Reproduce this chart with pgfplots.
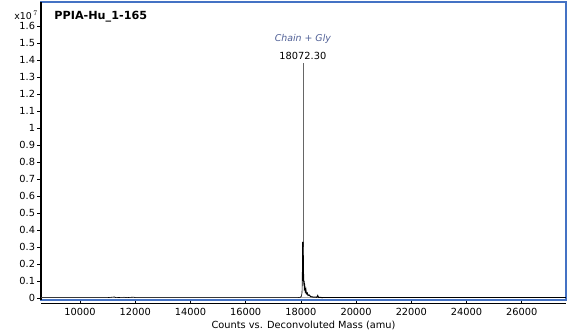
\documentclass[border=0pt]{standalone}
\usepackage{pgfplots}
\pgfplotsset{compat=1.18}
\usepackage{fontspec}
\setmainfont{DejaVu Sans}
\definecolor{frameblue}{RGB}{68,114,196}
\definecolor{annblue}{RGB}{80,96,150}
\begin{document}
\fontsize{9.8}{11}\selectfont
\begin{tikzpicture}
\begin{axis}[
  name=ax,
  scale only axis,
  width=525pt, height=298pt,
  xmin=8590, xmax=27600,
  ymin=-0.012, ymax=1.741,
  axis line style={draw=none},
  xtick={10000,12000,...,26000},
  ytick={0,0.1,...,1.6},
  yticklabels={0,0.1,0.2,0.3,0.4,0.5,0.6,0.7,0.8,0.9,1,1.1,1.2,1.3,1.4,1.5,1.6},
  scaled x ticks=false,
  /pgf/number format/1000 sep={},
  /pgf/number format/assume math mode=true,
  tick label style={font=\fontsize{9.8}{11}\selectfont},
  label style={font=\fontsize{9.8}{11}\selectfont},
  tick align=outside,
  xtick pos=bottom, ytick pos=left,
  major tick length=4pt,
  tick style={black, line width=0.7pt},
  xticklabel style={yshift=-0.5pt},
  yticklabel style={xshift=1.5pt},
  xlabel={Counts vs. Deconvoluted Mass (amu)},
  xlabel style={yshift=1pt},
  clip=false,
]
\draw[frameblue, line width=2pt] (rel axis cs:0,0) rectangle (rel axis cs:1,1);
\draw[black, line width=1.8pt] (rel axis cs:0,0) -- (rel axis cs:0,1);
\draw[black, line width=0.8pt] ([yshift=-3pt]rel axis cs:0,0) -- ([yshift=-3pt]rel axis cs:1,0);
\addplot[gray!70, line width=0.6pt] coordinates {(8590,0.002) (27600,0.002)};
\addplot[black, line width=0.6pt] coordinates {
(8590,0.002) (11000,0.002) (11250,0.006) (11300,0.002) (11600,0.004) (11700,0.002)
(11950,0.005) (12000,0.002) (17900,0.002) (17980,0.004) (18020,0.01)
(18040,0.03) (18050,0.08) (18055,0.33) (18060,0.2) (18064,0.33) (18066,0.1)
(18068,0.32) (18070,0.15) (18072,0.3)
};
\addplot[gray!80!black, line width=0.7pt] coordinates {(18072,0.3) (18072,1.385)};
\addplot[black, line width=1pt] coordinates {
(18072,0.3) (18076,0.2) (18078,0.33) (18082,0.18) (18086,0.25) (18092,0.12)
(18098,0.14) (18106,0.08) (18115,0.1) (18125,0.06) (18140,0.07) (18160,0.04)
(18180,0.05) (18200,0.025) (18230,0.03) (18260,0.015) (18300,0.018) (18350,0.008)
(18450,0.005) (18580,0.004) (18610,0.014) (18640,0.004) (18800,0.002)
};
\addplot[black, line width=0.6pt] coordinates {(18800,0.002) (27600,0.002)};
\node[anchor=north west, font=\bfseries\fontsize{11.2}{12}\selectfont] at ([xshift=10pt,yshift=-6pt]rel axis cs:0,1) {PPIA-Hu\_1-165};
\node[anchor=south, text=annblue, inner sep=1pt, font=\itshape\fontsize{9.4}{10}\selectfont] at (axis cs:18072,1.49) {Chain + Gly};
\node[anchor=south, inner sep=1pt, font=\fontsize{9.8}{10}\selectfont] at (axis cs:18072,1.395) {18072.30};
\node[anchor=south east, font=\fontsize{9.4}{10}\selectfont, inner sep=1pt] at ([xshift=-2pt,yshift=2pt]axis cs:8590,1.62) {x10$^{\,7}$};
\end{axis}
\pgfresetboundingbox
\path ([xshift=-41pt,yshift=-34pt]ax.south west) rectangle ([xshift=7pt,yshift=2pt]ax.north east);
\end{tikzpicture}
\end{document}
